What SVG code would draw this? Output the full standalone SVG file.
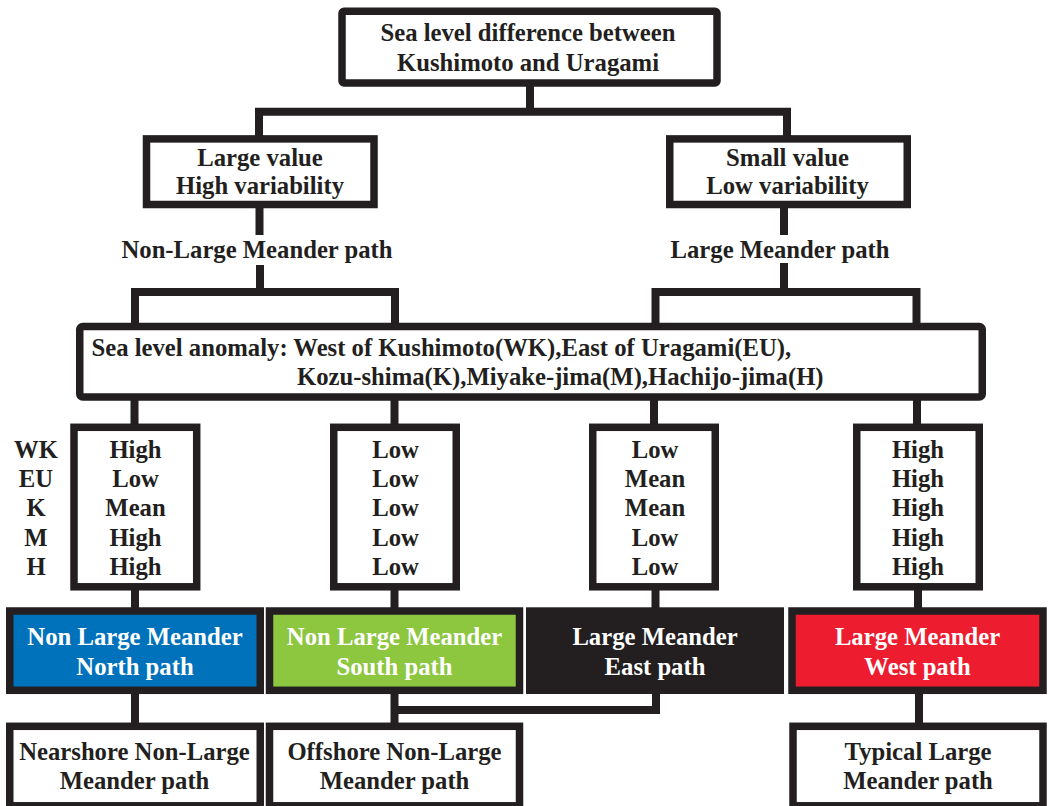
<svg xmlns="http://www.w3.org/2000/svg" width="1049" height="806" viewBox="0 0 1049 806">
<style>
.box{fill:#fff;stroke:#231f20;stroke-width:7.5}
.t{font-family:"Liberation Serif","Times New Roman",serif;font-weight:bold;font-size:24.7px;fill:#231f20;text-anchor:middle}
.l{text-anchor:start}
.w{fill:#fff}
.conn{fill:none;stroke:#231f20;stroke-width:8}
</style>
<rect width="1049" height="806" fill="#fff"/>
<g id="connectors" class="conn">
<path d="M530,86 V111.7 M259,136 V111.7 H787 V136"/>
<path d="M259.5,207 V235 M260,265 V292 M135,323 V292 H395 V323"/>
<path d="M784,207 V235 M784,263 V292 M655.5,323 V292 H916.5 V323"/>
<path d="M134.5,400 V424 M394.5,400 V424 M654,400 V424 M917,400 V424"/>
<path d="M135,590 V608 M394.5,590 V608 M655.5,590 V608 M918,590 V608"/>
<path d="M135,693 V723 M394.5,693 V723 M656,693 V710 H394.5 M919,693 V723"/>
</g>
<g id="n_top">
<rect class="box" x="342" y="11.3" width="375" height="71.7" rx="2"/>
<text class="t" x="528" y="41">Sea level difference between</text>
<text class="t" x="528" y="71">Kushimoto and Uragami</text>
</g>
<g id="n_large">
<rect class="box" x="146.5" y="138.9" width="227.5" height="65.6"/>
<text class="t" x="260" y="166">Large value</text>
<text class="t" x="260" y="194">High variability</text>
</g>
<g id="n_small">
<rect class="box" x="669.75" y="138.9" width="237.5" height="65.6"/>
<text class="t" x="787.5" y="166">Small value</text>
<text class="t" x="787.5" y="194">Low variability</text>
</g>
<g id="n_nonlarge_label">
<text class="t" x="257" y="258">Non-Large Meander path</text>
</g>
<g id="n_large_label">
<text class="t" x="780" y="258">Large Meander path</text>
</g>
<g id="n_anomaly">
<rect class="box" x="79.75" y="326.5" width="902.5" height="70.5" rx="3"/>
<text class="t l" x="91.5" y="356">Sea level anomaly: West of Kushimoto(WK),East of Uragami(EU),</text>
<text class="t l" x="297" y="385">Kozu-shima(K),Miyake-jima(M),Hachijo-jima(H)</text>
</g>
<g id="n_rowlabels">
<text class="t" x="36" y="457.5">WK</text>
<text class="t" x="36" y="486.8">EU</text>
<text class="t" x="36" y="516">K</text>
<text class="t" x="36" y="545.5">M</text>
<text class="t" x="36" y="574.8">H</text>
</g>
<g id="n_v1">
<rect class="box" x="74" y="427.3" width="122.7" height="159.5"/>
<text class="t" x="135.5" y="457.5">High</text>
<text class="t" x="135.5" y="486.8">Low</text>
<text class="t" x="135.5" y="516">Mean</text>
<text class="t" x="135.5" y="545.5">High</text>
<text class="t" x="135.5" y="574.8">High</text>
</g>
<g id="n_v2">
<rect class="box" x="333.75" y="427.3" width="122.5" height="159.5"/>
<text class="t" x="395.5" y="457.5">Low</text>
<text class="t" x="395.5" y="486.8">Low</text>
<text class="t" x="395.5" y="516">Low</text>
<text class="t" x="395.5" y="545.5">Low</text>
<text class="t" x="395.5" y="574.8">Low</text>
</g>
<g id="n_v3">
<rect class="box" x="592.75" y="427.3" width="122.5" height="159.5"/>
<text class="t" x="655" y="457.5">Low</text>
<text class="t" x="655" y="486.8">Mean</text>
<text class="t" x="655" y="516">Mean</text>
<text class="t" x="655" y="545.5">Low</text>
<text class="t" x="655" y="574.8">Low</text>
</g>
<g id="n_v4">
<rect class="box" x="856.75" y="427.3" width="122.5" height="159.5"/>
<text class="t" x="918" y="457.5">High</text>
<text class="t" x="918" y="486.8">High</text>
<text class="t" x="918" y="516">High</text>
<text class="t" x="918" y="545.5">High</text>
<text class="t" x="918" y="574.8">High</text>
</g>
<g id="n_north">
<rect class="box" x="9.75" y="611" width="250.5" height="79.3" style="fill:#0072bc"/>
<text class="t w" x="135" y="645">Non Large Meander</text>
<text class="t w" x="135" y="675">North path</text>
</g>
<g id="n_south">
<rect class="box" x="269.5" y="611" width="250" height="79.3" style="fill:#8dc63f"/>
<text class="t w" x="394.5" y="645">Non Large Meander</text>
<text class="t w" x="394.5" y="675">South path</text>
</g>
<g id="n_east">
<rect x="526" y="607.3" width="258" height="86.7" fill="#231f20"/>
<text class="t w" x="655" y="645">Large Meander</text>
<text class="t w" x="655" y="675">East path</text>
</g>
<g id="n_west">
<rect class="box" x="792" y="611" width="251" height="79.3" style="fill:#ed1c2e"/>
<text class="t w" x="917.5" y="645">Large Meander</text>
<text class="t w" x="917.5" y="675">West path</text>
</g>
<g id="n_nearshore">
<rect class="box" x="9.75" y="726.3" width="250.5" height="79.5"/>
<text class="t" x="134.5" y="760">Nearshore Non-Large</text>
<text class="t" x="134.5" y="789">Meander path</text>
</g>
<g id="n_offshore">
<rect class="box" x="269.5" y="726.3" width="250" height="79.5"/>
<text class="t" x="394.5" y="760">Offshore Non-Large</text>
<text class="t" x="394.5" y="789">Meander path</text>
</g>
<g id="n_typical">
<rect class="box" x="793" y="726.3" width="250" height="79.5"/>
<text class="t" x="918" y="760">Typical Large</text>
<text class="t" x="918" y="789">Meander path</text>
</g>
</svg>
